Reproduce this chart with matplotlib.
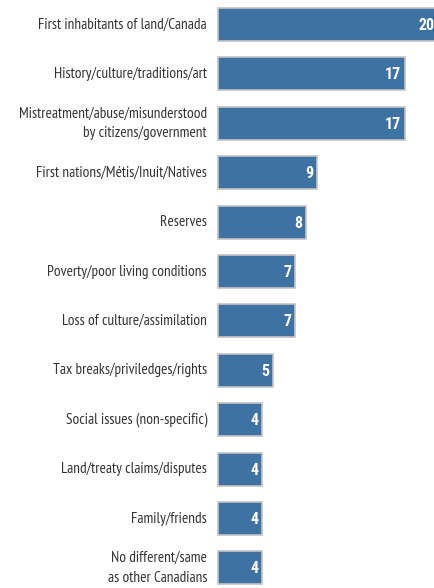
import matplotlib
matplotlib.use("Agg")
import matplotlib.pyplot as plt

categories = [
    "First inhabitants of land/Canada",
    "History/culture/traditions/art",
    "Mistreatment/abuse/misunderstood\nby citizens/government",
    "First nations/Métis/Inuit/Natives",
    "Reserves",
    "Poverty/poor living conditions",
    "Loss of culture/assimilation",
    "Tax breaks/priviledges/rights",
    "Social issues (non-specific)",
    "Land/treaty claims/disputes",
    "Family/friends",
    "No different/same\nas other Canadians",
]
values = [20, 17, 17, 9, 8, 7, 7, 5, 4, 4, 4, 4]

lab_fam = ["PT Sans Narrow", "DejaVu Sans"]
num_fam = ["Roboto Condensed", "Open Sans Condensed", "DejaVu Sans"]

W, H = 434, 588
fig = plt.figure(figsize=(W / 100, H / 100), dpi=100)
left = 218 / W
ax = fig.add_axes([left, 0, 1 - left, 1])
ppu = 11.0
ax.set_xlim(0, (W - 218) / ppu)
pitch = 49.4
c0 = 24.5
ax.set_ylim((H - c0) / pitch, -c0 / pitch)

ypos = list(range(len(categories)))
ax.barh(ypos, values, height=0.67, color="#3d72a3", edgecolor="#c4c4c4",
        linewidth=1.2, clip_on=False)
for y, v in zip(ypos, values):
    ax.text(v - 0.33, y + 0.02, str(v), ha="right", va="center", color="white",
            fontsize=11.5, fontweight="bold", family=num_fam)
for y, c in zip(ypos, categories):
    ax.text(-11 / ppu, y, c, ha="right", va="center", color="#333333",
            fontsize=11, family=lab_fam, linespacing=1.5, clip_on=False)
ax.axis("off")
fig.savefig("out.png", dpi=100)
